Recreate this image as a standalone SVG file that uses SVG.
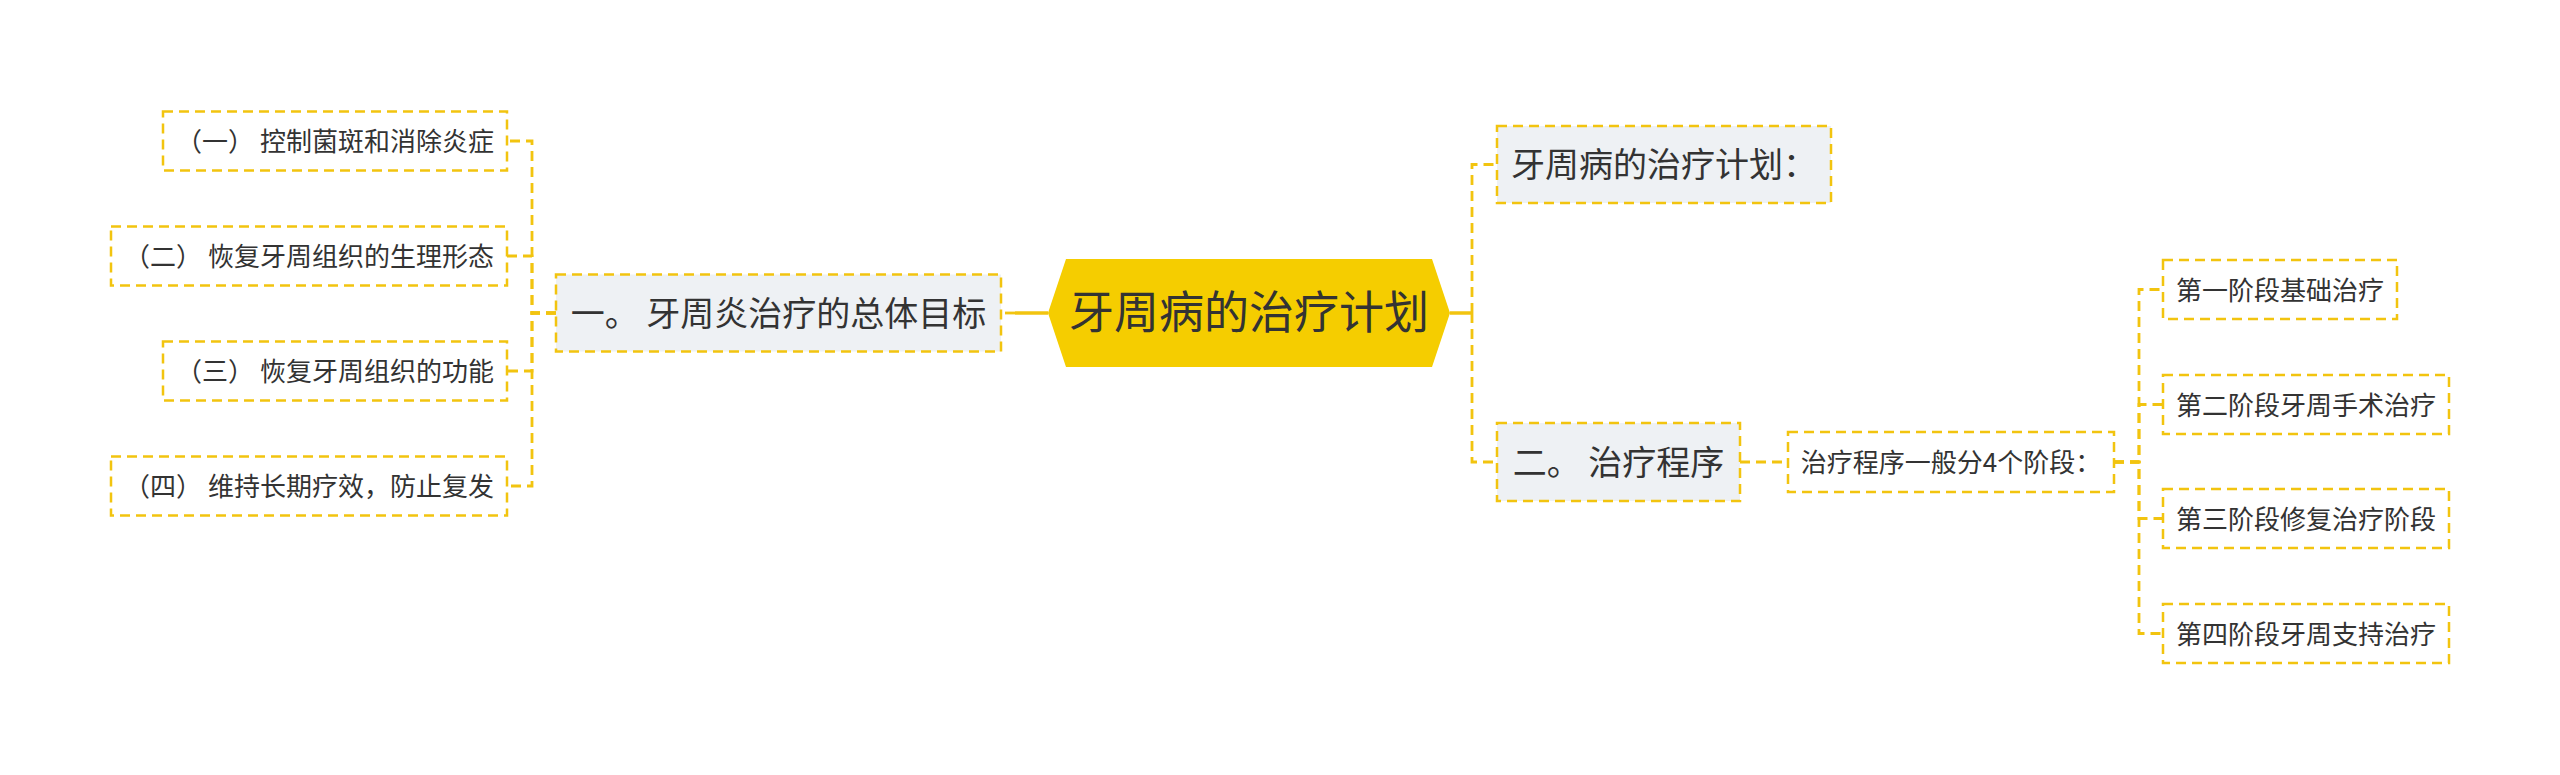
<svg xmlns="http://www.w3.org/2000/svg" width="2560" height="775" viewBox="0 0 2560 775">
<style>
text{font-family:"Noto Sans CJK SC","Noto Sans",sans-serif;fill:#333333;text-anchor:middle}
.s{font-size:26px}
.m{font-size:34px}
.l{font-size:45px}
.box{stroke:#F2C40F;stroke-width:2.5;stroke-dasharray:10 6;fill:#FFFFFF}
.gbox{stroke:#F2C40F;stroke-width:2.5;stroke-dasharray:10 6;fill:#EEF1F4}
.dc{fill:none;stroke:#F2C40F;stroke-width:2.8;stroke-dasharray:10 6}
.sc{fill:none;stroke:#F2C40F;stroke-width:3.5}
</style>
<rect width="2560" height="775" fill="#FFFFFF"/>
<g id="connectors">
<path class="sc" d="M1048 313 H1015"/>
<path class="dc" d="M1015 313 H1001"/>
<path class="sc" d="M1450 313 H1472"/>
<path class="dc" d="M1472 313 V164.5 H1497"/>
<path class="dc" d="M1472 313 V462 H1497"/>
<path class="dc" d="M556 313 H532 V141 H507"/>
<path class="dc" d="M556 313 H532 V256 H507"/>
<path class="dc" d="M556 313 H532 V371 H507"/>
<path class="dc" d="M556 313 H532 V486 H507"/>
<path class="dc" d="M1740 462 H1788"/>
<path class="dc" d="M2114 462 H2139 V289.5 H2163"/>
<path class="dc" d="M2114 462 H2139 V404.5 H2163"/>
<path class="dc" d="M2114 462 H2139 V518.5 H2163"/>
<path class="dc" d="M2114 462 H2139 V633.5 H2163"/>
</g>
<g id="root">
<polygon points="1048,313 1066,259 1432,259 1450,313 1432,367 1066,367" fill="#F5CD00"/>
<text class="l" x="1249" y="329">牙周病的治疗计划</text>
</g>
<g id="n1">
<rect class="gbox" x="556" y="274.5" width="445" height="77"/>
<text class="m" x="778.5" y="326">一。 牙周炎治疗的总体目标</text>
</g>
<g id="n1a">
<rect class="box" x="163" y="111.5" width="344" height="59"/>
<text class="s" x="335" y="151">（一） 控制菌斑和消除炎症</text>
</g>
<g id="n1b">
<rect class="box" x="111" y="226.5" width="396" height="59"/>
<text class="s" x="309" y="266">（二） 恢复牙周组织的生理形态</text>
</g>
<g id="n1c">
<rect class="box" x="163" y="341.5" width="344" height="59"/>
<text class="s" x="335" y="381">（三） 恢复牙周组织的功能</text>
</g>
<g id="n1d">
<rect class="box" x="111" y="456.5" width="396" height="59"/>
<text class="s" x="309" y="496">（四） 维持长期疗效，防止复发</text>
</g>
<g id="n2">
<rect class="gbox" x="1497" y="126" width="334" height="77"/>
<text class="m" x="1664" y="177">牙周病的治疗计划：</text>
</g>
<g id="n3">
<rect class="gbox" x="1497" y="423" width="243" height="78"/>
<text class="m" x="1618.5" y="475">二。 治疗程序</text>
</g>
<g id="n3a">
<rect class="box" x="1788" y="432" width="326" height="60"/>
<text class="s" x="1951" y="472">治疗程序一般分4个阶段：</text>
</g>
<g id="s1">
<rect class="box" x="2163" y="260" width="234" height="59"/>
<text class="s" x="2280" y="299.5">第一阶段基础治疗</text>
</g>
<g id="s2">
<rect class="box" x="2163" y="375" width="286" height="59"/>
<text class="s" x="2306" y="414.5">第二阶段牙周手术治疗</text>
</g>
<g id="s3">
<rect class="box" x="2163" y="489" width="286" height="59"/>
<text class="s" x="2306" y="528.5">第三阶段修复治疗阶段</text>
</g>
<g id="s4">
<rect class="box" x="2163" y="604" width="286" height="59"/>
<text class="s" x="2306" y="643.5">第四阶段牙周支持治疗</text>
</g>
</svg>
